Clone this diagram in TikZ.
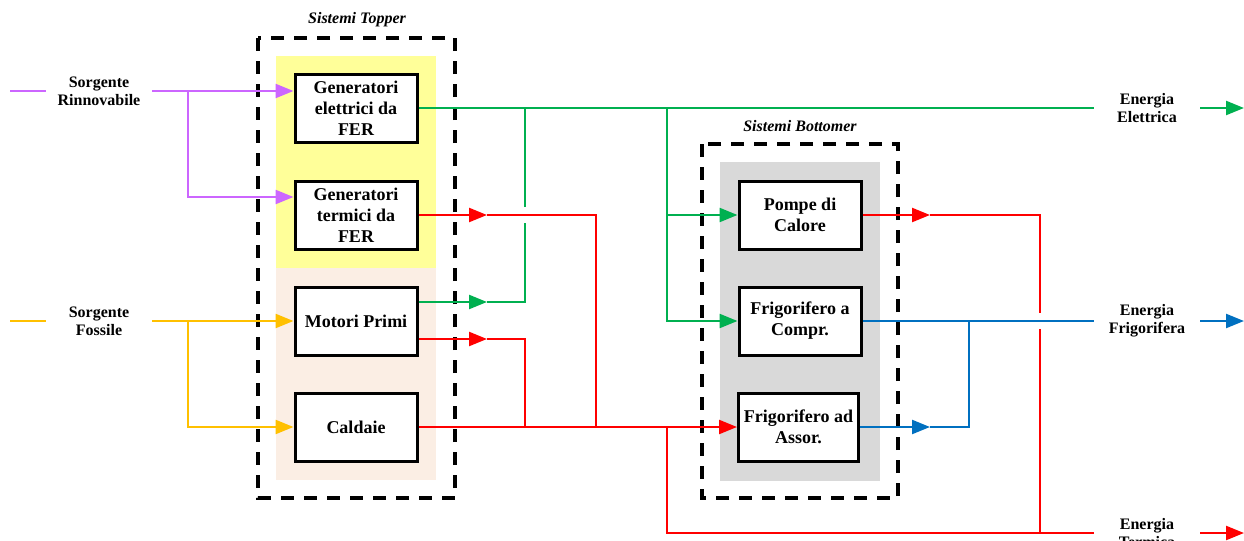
\documentclass[tikz,border=0pt]{standalone}
\usepackage{fontspec}
\setmainfont{Liberation Serif}
\usepackage{tikz}
\usetikzlibrary{arrows.meta}
\definecolor{verde}{HTML}{00B050}
\definecolor{rosso}{HTML}{FF0000}
\definecolor{blu}{HTML}{0070C0}
\definecolor{viola}{HTML}{CC66FF}
\definecolor{arancio}{HTML}{FFC000}
\definecolor{giallo}{HTML}{FFFF99}
\definecolor{pesca}{HTML}{FBEEE4}
\definecolor{grigio}{HTML}{D9D9D9}
\newcommand{\spess}{1.2pt}

\begin{document}
\begin{tikzpicture}[x=0.5pt,y=-0.5pt,
    blocco/.style={draw, line width=1.5pt, fill=white, minimum width=61pt, minimum height=34pt,
        inner sep=1pt, align=center, font=\fontsize{9}{10.5}\selectfont\bfseries},
    etichetta/.style={minimum width=53pt, inner sep=0pt, align=center,
        font=\fontsize{8}{9}\selectfont\bfseries},
    gruppo/.style={draw, line width=2pt, dash pattern=on 6.5pt off 5pt},
    titolo/.style={font=\fontsize{8}{9}\selectfont\bfseries\itshape},
    flusso/.style={line width=\spess},
    freccia/.style={flusso, -{Triangle[length=9pt,width=7pt]}}]

    \useasboundingbox (0,0) rectangle (1244,541);

    % sfondi e riquadri tratteggiati
    \fill[giallo] (276,56) rectangle (436,268);
    \fill[pesca] (276,268) rectangle (436,480);
    \fill[grigio] (720,162) rectangle (880,481);
    \draw[gruppo] (258,38) rectangle (455,498);
    \draw[gruppo] (702,144) rectangle (898,498);
    \node[titolo] (tTop) at (357,20) {Sistemi Topper};
    \node[titolo] (tBot) at (800,126) {Sistemi Bottomer};

    % blocchi
    \node[blocco] (gel) at (356,108) {Generatori\\elettrici da\\FER};
    \node[blocco] (gte) at (356,215) {Generatori\\termici da\\FER};
    \node[blocco] (mot) at (356,321) {Motori Primi};
    \node[blocco] (cal) at (356,427) {Caldaie};
    \node[blocco] (pdc) at (800,215) {Pompe di\\Calore};
    \node[blocco] (fcp) at (800,321) {Frigorifero a\\Compr.};
    \node[blocco, minimum width=60pt] (fas) at (798.5,427) {Frigorifero ad\\Assor.};

    % ingressi e uscite
    \node[etichetta] (rin) at (99,91) {Sorgente\\Rinnovabile};
    \node[etichetta] (fos) at (99,321) {Sorgente\\Fossile};
    \node[etichetta] (eel) at (1147,108) {Energia\\Elettrica};
    \node[etichetta] (efr) at (1147,321) {Energia\\Frigorifera};
    \node[etichetta] (ete) at (1147,533) {Energia\\Termica};

    \coordinate (rin0) at (10,91);
    \coordinate (fos0) at (10,321);
    \coordinate (jv) at (188,91);
    \coordinate (ja) at (188,321);
    \coordinate (r1) at (487,215);
    \coordinate (r2) at (487,339);
    \coordinate (g1) at (487,302);
    \coordinate (gapA) at (525,223);
    \coordinate (gapB) at (525,207);
    \coordinate (jg1) at (525,108);
    \coordinate (jr1) at (525,427);
    \coordinate (jr2) at (596,427);
    \coordinate (jr3) at (667,427);
    \coordinate (jg2) at (667,108);
    \coordinate (jg3) at (667,215);
    \coordinate (r3) at (930,215);
    \coordinate (b1) at (930,427);
    \coordinate (jb) at (969,321);
    \coordinate (gapC) at (1040,313);
    \coordinate (gapD) at (1040,329);
    \coordinate (jr4) at (1040,533);
    \coordinate (outE) at (1244,108);
    \coordinate (outF) at (1244,321);
    \coordinate (outT) at (1244,533);

    % fonti
    \draw[flusso, viola] (rin0) -- (rin.west);
    \draw[freccia, viola] (rin.east) -- (gel.west |- rin);
    \draw[freccia, viola] (jv) |- ([yshift=9pt]gte.west);
    \draw[flusso, arancio] (fos0) -- (fos.west);
    \draw[freccia, arancio] (fos.east) -- (mot.west);
    \draw[freccia, arancio] (ja) |- (cal.west);

    % energia elettrica
    \draw[flusso, verde] (gel.east) -- (eel.west);
    \draw[freccia, verde] (eel.east) -- (outE);
    \draw[freccia, verde] ([yshift=9.5pt]mot.east) -- (g1);
    \draw[flusso, verde] (g1) -| (gapA);
    \draw[flusso, verde] (gapB) -- (jg1);
    \draw[freccia, verde] (jg2) |- (fcp.west);
    \draw[freccia, verde] (jg3) -- (pdc.west);

    % energia termica
    \draw[freccia, rosso] (gte.east) -- (r1);
    \draw[flusso, rosso] (r1) -| (jr2);
    \draw[freccia, rosso] ([yshift=-9pt]mot.east) -- (r2);
    \draw[flusso, rosso] (r2) -| (jr1);
    \draw[freccia, rosso] (cal.east) -- (fas.west);
    \draw[flusso, rosso] (jr3) |- (ete.west);
    \draw[freccia, rosso] (pdc.east) -- (r3);
    \draw[flusso, rosso] (r3) -| (gapC);
    \draw[flusso, rosso] (gapD) -- (jr4);
    \draw[freccia, rosso] (ete.east) -- (outT);

    % energia frigorifera
    \draw[flusso, blu] (fcp.east) -- (efr.west);
    \draw[freccia, blu] (efr.east) -- (outF);
    \draw[freccia, blu] (fas.east) -- (b1);
    \draw[flusso, blu] (b1) -| (jb);
\end{tikzpicture}
\end{document}
